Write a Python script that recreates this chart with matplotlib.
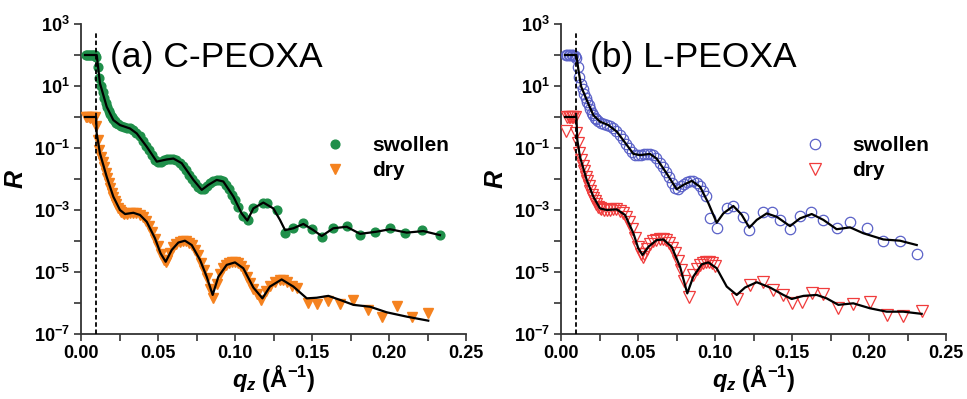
import numpy as np
import matplotlib
matplotlib.use("Agg")
import matplotlib.pyplot as plt
from matplotlib.ticker import FixedLocator, NullFormatter

plt.rcParams['font.family'] = ['Liberation Sans', 'DejaVu Sans']
plt.rcParams['mathtext.fontset'] = 'custom'
plt.rcParams['mathtext.rm'] = 'Liberation Sans:bold'
plt.rcParams['mathtext.bf'] = 'Liberation Sans:bold'
plt.rcParams['mathtext.it'] = 'Liberation Sans:bold:italic'

# ---------------- data (q in 1/Angstrom, log10 R) ----------------
# (a) C-PEOXA swollen data
a_sw_q = [0.003, 0.004, 0.005, 0.006, 0.007, 0.008, 0.009, 0.010, 0.011, 0.012, 0.013, 0.014, 0.015, 0.016,
          0.017, 0.018, 0.019, 0.020, 0.021, 0.022, 0.023, 0.024, 0.026, 0.028, 0.030, 0.032, 0.034,
          0.036, 0.038, 0.040, 0.042, 0.044, 0.046, 0.048, 0.050, 0.052, 0.054, 0.056, 0.058, 0.060,
          0.062, 0.064, 0.066, 0.068, 0.070, 0.072, 0.074, 0.076, 0.078, 0.080, 0.082, 0.084, 0.086,
          0.088, 0.090, 0.092, 0.094, 0.096, 0.098, 0.100, 0.102, 0.105, 0.1087, 0.1119, 0.1184, 0.1206,
          0.1271, 0.1325, 0.1379, 0.1440, 0.1498, 0.1563, 0.1638, 0.1725, 0.1812, 0.1909, 0.2006,
          0.2104, 0.2212, 0.2331]
a_sw_logR = [2.0, 2.0, 2.0, 2.0, 2.0, 2.0, 2.0, 1.95, 1.6, 1.25, 1.0, 0.8, 0.62, 0.45,
             0.32, 0.2, 0.1, 0.0, -0.08, -0.14, -0.19, -0.23, -0.28, -0.32, -0.34, -0.37, -0.43,
             -0.51, -0.62, -0.76, -0.92, -1.08, -1.24, -1.38, -1.45, -1.44, -1.39, -1.36, -1.35, -1.36,
             -1.40, -1.47, -1.58, -1.72, -1.87, -2.0, -2.13, -2.26, -2.33, -2.32, -2.22, -2.12, -2.06,
             -2.03, -2.04, -2.08, -2.18, -2.33, -2.50, -2.68, -2.9, -3.2, -3.32, -2.95, -2.78, -2.76,
             -3.0, -3.73, -3.59, -3.43, -3.62, -3.86, -3.59, -3.52, -3.81, -3.70, -3.59,
             -3.73, -3.66, -3.81]
# (a) C-PEOXA swollen fit
a_swf_q = [0.0026, 0.0102, 0.0123, 0.0167, 0.0210, 0.0253, 0.0318, 0.0362, 0.0427, 0.0492, 0.0556,
           0.0600, 0.0654, 0.0730, 0.0784, 0.0827, 0.0881, 0.0924, 0.0990, 0.1043, 0.1080, 0.1119,
           0.1184, 0.1249, 0.1292, 0.1325, 0.1379, 0.1444, 0.1509, 0.1563, 0.1638, 0.1725, 0.1812,
           0.1920, 0.2006, 0.2115, 0.2223, 0.2331]
a_swf_logR = [2.0, 2.0, 1.09, 0.33, -0.10, -0.26, -0.37, -0.53, -0.96, -1.44, -1.37,
              -1.34, -1.49, -2.03, -2.35, -2.19, -2.03, -2.08, -2.57, -3.11, -3.34, -2.95,
              -2.76, -2.95, -3.32, -3.65, -3.59, -3.45, -3.65, -3.84, -3.59, -3.54, -3.77,
              -3.70, -3.62, -3.73, -3.68, -3.81]
# (a) C-PEOXA dry data
a_dr_q = [0.003, 0.004, 0.005, 0.006, 0.007, 0.008, 0.009, 0.010, 0.011, 0.012, 0.013, 0.014, 0.015, 0.016,
          0.017, 0.018, 0.019, 0.020, 0.021, 0.022, 0.023, 0.024, 0.025, 0.026, 0.027, 0.028, 0.030,
          0.032, 0.034, 0.036, 0.038, 0.040, 0.042, 0.044, 0.046, 0.048, 0.050, 0.052, 0.054, 0.055,
          0.056, 0.058, 0.060, 0.062, 0.064, 0.066, 0.068, 0.070, 0.072, 0.074, 0.076, 0.078, 0.080,
          0.082, 0.084, 0.086, 0.088, 0.090, 0.092, 0.094, 0.096, 0.098, 0.100, 0.102, 0.104, 0.106,
          0.108, 0.110, 0.112, 0.114, 0.117, 0.120, 0.123, 0.126, 0.129, 0.131, 0.134, 0.137, 0.140,
          0.1476, 0.1530, 0.1606, 0.1682, 0.1769, 0.1866, 0.1953, 0.2050, 0.2147, 0.2255]
a_dr_logR = [0.0, 0.0, 0.0, -0.02, 0.0, -0.05, 0.0, -0.3, -0.75, -1.05, -1.3, -1.45, -1.62, -1.80,
             -1.97, -2.13, -2.30, -2.45, -2.58, -2.7, -2.82, -2.92, -3.0, -3.07, -3.11, -3.13, -3.12,
             -3.10, -3.09, -3.11, -3.15, -3.22, -3.34, -3.50, -3.70, -3.92, -4.15, -4.42, -4.62, -4.68,
             -4.60, -4.38, -4.20, -4.09, -4.02, -3.99, -3.99, -4.05, -4.14, -4.28, -4.46, -4.7, -4.95,
             -5.2, -5.55, -5.85, -5.4, -5.05, -4.88, -4.78, -4.72, -4.69, -4.68, -4.72, -4.82, -4.95,
             -5.15, -5.35, -5.55, -5.7, -5.9, -5.6, -5.45, -5.32, -5.26, -5.25, -5.33, -5.45, -5.52,
             -6.01, -6.04, -5.93, -6.03, -5.90, -6.23, -6.44, -6.10, -6.44, -6.33]
# (a) C-PEOXA dry fit
a_drf_q = [0.0026, 0.0098, 0.0102, 0.0123, 0.0167, 0.0210, 0.0253, 0.0286, 0.0340, 0.0383, 0.0427,
           0.0480, 0.0517, 0.0550, 0.0589, 0.0632, 0.0675, 0.0719, 0.0773, 0.0816, 0.0855, 0.0892,
           0.0946, 0.1000, 0.1054, 0.1119, 0.1178, 0.1227, 0.1303, 0.1379, 0.1466, 0.1530, 0.1606,
           0.1682, 0.1769, 0.1877, 0.1985, 0.2115, 0.2255]
a_drf_logR = [0.0, 0.0, -0.53, -1.17, -1.93, -2.57, -3.0, -3.13, -3.09, -3.16, -3.38,
              -3.91, -4.40, -4.67, -4.29, -4.05, -3.99, -4.13, -4.61, -5.15, -5.74, -5.15,
              -4.77, -4.69, -4.88, -5.50, -5.85, -5.47, -5.24, -5.47, -5.85, -5.83, -5.77,
              -5.90, -6.06, -6.12, -6.30, -6.44, -6.57]

# (b) L-PEOXA swollen data
b_sw_q = [0.003, 0.004, 0.005, 0.006, 0.007, 0.008, 0.009, 0.010, 0.011, 0.012, 0.013, 0.014, 0.015, 0.016,
          0.017, 0.018, 0.019, 0.020, 0.021, 0.022, 0.023, 0.024, 0.026, 0.028, 0.030, 0.032, 0.034,
          0.036, 0.038, 0.040, 0.042, 0.044, 0.046, 0.048, 0.050, 0.052, 0.054, 0.056, 0.058, 0.060,
          0.062, 0.064, 0.066, 0.068, 0.070, 0.072, 0.074, 0.076, 0.078, 0.080, 0.082, 0.084, 0.086,
          0.088, 0.090, 0.092, 0.094, 0.0968, 0.1011, 0.1076, 0.1119, 0.1184, 0.1223, 0.1314, 0.1368,
          0.1422, 0.1487, 0.1552, 0.1623, 0.1704, 0.1790, 0.1877, 0.1985, 0.2093, 0.2201, 0.2310]
b_sw_logR = [2.0, 2.0, 2.0, 2.0, 2.0, 2.0, 1.98, 1.9, 1.6, 1.3, 1.05, 0.9, 0.75, 0.62,
             0.5, 0.38, 0.25, 0.13, 0.05, -0.02, -0.08, -0.12, -0.2, -0.24, -0.26, -0.29, -0.35,
             -0.45, -0.58, -0.72, -0.86, -1.0, -1.13, -1.22, -1.24, -1.22, -1.2, -1.19, -1.19, -1.24,
             -1.33, -1.47, -1.62, -1.78, -1.95, -2.12, -2.28, -2.32, -2.24, -2.16, -2.1, -2.06, -2.07,
             -2.12, -2.22, -2.38, -2.56, -3.27, -3.59, -2.95, -2.86, -3.22, -3.65, -3.08, -3.08,
             -3.32, -3.62, -3.19, -3.06, -3.32, -3.59, -3.38, -3.59, -3.99, -3.99, -4.43]
# (b) L-PEOXA swollen fit
b_swf_q = [0.0026, 0.0100, 0.0113, 0.0131, 0.0167, 0.0210, 0.0253, 0.0307, 0.0362, 0.0427, 0.0470,
           0.0513, 0.0578, 0.0621, 0.0686, 0.0751, 0.0795, 0.0849, 0.0903, 0.0957, 0.1011, 0.1054,
           0.1119, 0.1173, 0.1223, 0.1271, 0.1336, 0.1401, 0.1487, 0.1552, 0.1628, 0.1704, 0.1790,
           0.1877, 0.1963, 0.2093, 0.2201, 0.2310]
b_swf_logR = [2.0, 2.0, 1.52, 0.98, 0.55, 0.06, -0.15, -0.26, -0.47, -0.90, -1.19,
              -1.23, -1.19, -1.34, -1.82, -2.33, -2.19, -2.06, -2.25, -2.78, -3.41, -3.11,
              -2.87, -3.15, -3.57, -3.32, -3.11, -3.22, -3.52, -3.27, -3.13, -3.32, -3.62,
              -3.56, -3.75, -3.95, -3.99, -4.13]
# (b) L-PEOXA dry data
b_dr_q = [0.003, 0.004, 0.005, 0.006, 0.007, 0.008, 0.009, 0.010, 0.011, 0.012, 0.013, 0.014, 0.015, 0.016,
          0.017, 0.018, 0.019, 0.020, 0.021, 0.022, 0.023, 0.024, 0.025, 0.026, 0.028, 0.030, 0.032,
          0.034, 0.036, 0.038, 0.040, 0.042, 0.044, 0.046, 0.048, 0.050, 0.052, 0.053, 0.054, 0.056,
          0.058, 0.060, 0.062, 0.064, 0.066, 0.068, 0.070, 0.072, 0.074, 0.076, 0.078, 0.080, 0.0833,
          0.086, 0.088, 0.090, 0.092, 0.094, 0.096, 0.098, 0.100, 0.1141, 0.1227, 0.1314, 0.1379,
          0.1444, 0.1498, 0.1563, 0.1628, 0.1704, 0.1801, 0.1898, 0.2006, 0.2115, 0.2223, 0.2342]
b_dr_logR = [-0.44, 0.0, 0.0, 0.0, 0.0, 0.0, 0.0, -0.5, -0.85, -1.15, -1.4, -1.58, -1.75, -1.92,
             -2.08, -2.24, -2.40, -2.52, -2.62, -2.72, -2.82, -2.9, -2.95, -2.98, -3.0, -3.0, -2.99,
             -2.98, -2.98, -3.02, -3.1, -3.22, -3.4, -3.62, -3.9, -4.2, -4.42, -4.5, -4.42, -4.25,
             -4.1, -4.0, -3.96, -3.94, -3.94, -3.98, -4.08, -4.22, -4.4, -4.65, -4.95, -5.3, -5.80,
             -5.1, -4.9, -4.78, -4.72, -4.68, -4.68, -4.72, -4.82, -5.88, -5.42, -5.31, -5.58,
             -5.74, -6.01, -5.96, -5.67, -5.70, -6.17, -6.03, -5.96, -6.39, -6.42, -6.25]
# (b) L-PEOXA dry fit
b_drf_q = [0.0026, 0.0100, 0.0106, 0.0123, 0.0167, 0.0210, 0.0253, 0.0297, 0.0362, 0.0416, 0.0470,
           0.0502, 0.0530, 0.0567, 0.0621, 0.0665, 0.0719, 0.0773, 0.0820, 0.0859, 0.0914, 0.0957,
           0.1011, 0.1076, 0.1141, 0.1195, 0.1271, 0.1357, 0.1444, 0.1498, 0.1574, 0.1660, 0.1725,
           0.1801, 0.1898, 0.2006, 0.2115, 0.2223, 0.2342]
b_drf_logR = [0.0, 0.0, -0.74, -1.28, -2.03, -2.57, -2.95, -3.0, -2.98, -3.16, -3.75,
              -4.24, -4.45, -4.19, -3.97, -3.95, -4.19, -4.83, -5.69, -5.15, -4.75, -4.69,
              -4.88, -5.47, -5.74, -5.50, -5.33, -5.50, -5.74, -5.87, -5.77, -5.74, -5.85,
              -6.06, -6.01, -6.17, -6.28, -6.28, -6.35]

critical_q = 0.0095
panel_titles = ["(a) C-PEOXA", "(b) L-PEOXA"]
series_labels = ["swollen", "dry"]
x_ticks = [0.00, 0.05, 0.10, 0.15, 0.20, 0.25]
x_ticklabels = ["0.00", "0.05", "0.10", "0.15", "0.20", "0.25"]
y_exps = [3, 1, -1, -3, -5, -7]

# ---------------- figure ----------------
W, H = 967, 399
fig = plt.figure(figsize=(W / 100, H / 100), dpi=100)
fig.patch.set_facecolor('white')

def pos(l, r, t, b):
    return [l / W, (H - b) / H, (r - l) / W, (b - t) / H]

axes = [fig.add_axes(pos(81, 466, 24, 334)), fig.add_axes(pos(561, 946, 24, 334))]

panels = [
    dict(sw=(a_sw_q, a_sw_logR), swf=(a_swf_q, a_swf_logR), dr=(a_dr_q, a_dr_logR), drf=(a_drf_q, a_drf_logR),
         sw_style=dict(marker='o', ms=6.3, mfc='#1f8f4a', mec='#1f8f4a', ls='none'),
         dr_style=dict(marker='v', ms=7.5, mfc='#f5821f', mec='#f5821f', ls='none')),
    dict(sw=(b_sw_q, b_sw_logR), swf=(b_swf_q, b_swf_logR), dr=(b_dr_q, b_dr_logR), drf=(b_drf_q, b_drf_logR),
         sw_style=dict(marker='o', ms=7.5, mfc='none', mec='#5b62c8', mew=0.9, ls='none'),
         dr_style=dict(marker='v', ms=8.5, mfc='none', mec='#f03c3c', mew=0.9, ls='none')),
]

for ax, p, title in zip(axes, panels, panel_titles):
    q, lr = p['sw']
    h1, = ax.plot(q, 10.0 ** np.array(lr), label=series_labels[0], zorder=3, **p['sw_style'])
    q, lr = p['dr']
    h2, = ax.plot(q, 10.0 ** np.array(lr), label=series_labels[1], zorder=3, **p['dr_style'])
    q, lr = p['swf']
    ax.plot(q, 10.0 ** np.array(lr), color='black', lw=1.6, zorder=4)
    q, lr = p['drf']
    ax.plot(q, 10.0 ** np.array(lr), color='black', lw=1.6, zorder=4)
    ax.plot([critical_q, critical_q], [1e-7, 5e2], color='black', lw=1.3, ls=(0, (2.5, 1.5)), zorder=5)

    ax.set_yscale('log')
    ax.set_xlim(0, 0.25)
    ax.set_ylim(1e-7, 1e3)
    ax.set_xticks(x_ticks)
    ax.set_xticklabels(x_ticklabels)
    ax.xaxis.set_minor_locator(FixedLocator([0.025, 0.075, 0.125, 0.175, 0.225]))
    ax.set_yticks([10.0 ** e for e in y_exps])
    ax.set_yticklabels([r'$\mathbf{10^{%d}}$' % e for e in y_exps])
    ax.yaxis.set_minor_locator(FixedLocator([10.0 ** e for e in [2, 0, -2, -4, -6]]))
    ax.yaxis.set_minor_formatter(NullFormatter())
    for s in ['top', 'right']:
        ax.spines[s].set_visible(False)
    for s in ['left', 'bottom']:
        ax.spines[s].set_color('#333333')
        ax.spines[s].set_linewidth(1.3)
    ax.tick_params(which='both', direction='out', length=5, width=1.2, color='#333333')
    ax.tick_params(axis='both', which='major', labelsize=13, pad=3)
    for lab in ax.get_xticklabels():
        lab.set_fontweight('bold')
    ax.set_ylabel(r'$\mathit{R}$', fontsize=18, labelpad=4)
    ax.set_xlabel(r'$\mathit{q_z}$ (Å$^{-1}$)', fontsize=17, fontweight='bold', labelpad=1)
    ax.text(0.075, 0.86, title, transform=ax.transAxes, fontsize=25.5, color='black',
            fontweight='normal', va='baseline', ha='left')
    leg = ax.legend(handles=[h1, h2], loc='upper left', bbox_to_anchor=(0.605, 0.665), frameon=False,
                    prop=dict(size=15, weight='bold'), handletextpad=1.2, labelspacing=0.3,
                    handlelength=1.2, borderaxespad=0)

fig.savefig('out.png', dpi=100, facecolor='white')
